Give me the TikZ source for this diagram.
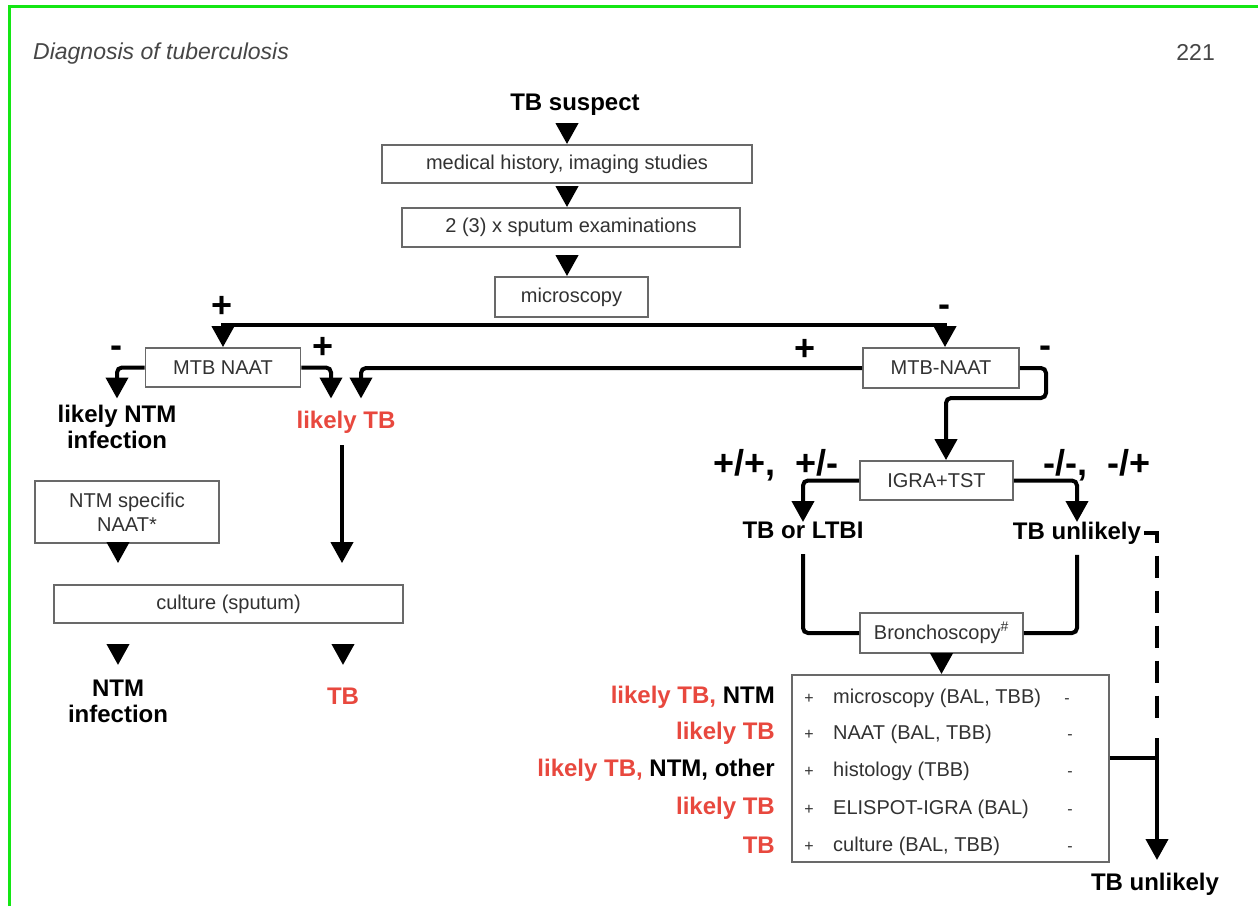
\documentclass[tikz,border=0pt]{standalone}
\usepackage{fontspec}
\setmainfont{Liberation Sans}
\usetikzlibrary{arrows.meta,calc}
\definecolor{tbred}{RGB}{232,72,62}
\definecolor{boxgray}{RGB}{105,105,105}
\definecolor{txtgray}{RGB}{50,50,50}
\definecolor{hdrgray}{RGB}{70,70,70}
\definecolor{framegreen}{RGB}{20,230,20}
\begin{document}
\begin{tikzpicture}[x=1pt,y=-1pt,
  box/.style={draw=boxgray, line width=1.8pt, fill=white, inner sep=0pt,
    font=\fontsize{20}{24}\selectfont, text=txtgray, align=center},
  lbl/.style={font=\bfseries\fontsize{24}{26}\selectfont, inner sep=0pt, align=center, text=black},
  redlbl/.style={lbl, text=tbred},
  pm/.style={font=\bfseries\fontsize{36}{36}\selectfont, inner sep=0pt, text=black},
  ln/.style={line width=4pt, rounded corners=5pt},
  arr/.style={-{Triangle[width=22pt,length=21pt]}},
  row/.style={font=\fontsize{20}{22}\selectfont, text=txtgray, inner sep=0pt, anchor=base west},
  sgn/.style={font=\fontsize{16}{18}\selectfont, text=txtgray, inner sep=0pt, anchor=base},
  rowlbl/.style={font=\bfseries\fontsize{24}{26}\selectfont, inner sep=0pt, anchor=base east},
]
\useasboundingbox (0,0) rectangle (1258,906);
\fill[white] (0,0) rectangle (1258,906);
\draw[framegreen, line width=3pt] (9.5,906) -- (9.5,6.5) -- (1258,6.5);

% header
\node[font=\itshape\fontsize{23}{26}\selectfont, text=hdrgray, inner sep=0pt, anchor=base west] (hdr) at (33,59) {Diagnosis of tuberculosis};
\node[font=\fontsize{23}{26}\selectfont, text=hdrgray, inner sep=0pt, anchor=base east] (pg) at (1215,60) {221};

% top column
\node[lbl] (ts) at (575,105) {TB suspect};
\node[box, minimum width=370pt, minimum height=38pt] (b1) at (567,164) {medical history, imaging studies};
\node[box, minimum width=338pt, minimum height=39pt] (b2) at (571,227.5) {2 (3) x sputum examinations};
\node[box, minimum width=153pt, minimum height=40pt] (b3) at (571.5,297) {microscopy};

\draw[ln, arr, shorten <=9pt] (ts.south -| b1.north) -- (b1.north);
\draw[ln, arr, shorten <=3pt] (b1.south) -- (b1.south |- b2.north);
\draw[ln, arr, shorten <=9pt] (b1.south |- b2.south) -- (b1.south |- b3.north);

% split after microscopy
\node[box, minimum width=155pt, minimum height=39pt] (nl) at (223,367.5) {MTB NAAT};
\node[box, minimum width=156pt, minimum height=40pt] (nr) at (941,368) {MTB-NAAT};
\coordinate (bar) at (571,325);
\draw[line width=4pt, {Triangle[width=22pt,length=21pt]}-{Triangle[width=22pt,length=21pt]}]
  (nl.north) |- (bar) -| ([xshift=4pt]nr.north);
\node[pm] (pmA) at (222,307) {+};
\node[pm] (pmB) at (944,311) {-};

% left branch
\node[lbl, anchor=north] (lntm) at (117,404.5) {likely NTM\\infection};
\node[redlbl, anchor=north] (ltb) at (346,410.5) {likely TB};
\draw[ln, arr, shorten >=6pt] (nl.west) -| (lntm.north);
\draw[ln, arr, shorten >=12pt] (nl.east) -| ([xshift=-15pt]ltb.north);
\draw[ln, arr, shorten >=12pt] (nr.west) -| ([xshift=15pt]ltb.north);
\node[pm] (pmC) at (116,352) {-};
\node[pm] (pmD) at (323,348) {+};
\node[pm] (pmE) at (805,350) {+};

\node[box, minimum width=184pt, minimum height=62pt] (ntmn) at (127,512) {NTM specific\\NAAT*};
\node[box, minimum width=349pt, minimum height=38pt] (cult) at (228.5,604) {culture (sputum)};
\node[lbl, anchor=north] (ntminf) at (118,680) {NTM\\infection};
\node[redlbl, anchor=north] (tb1) at (343,688) {TB};

\draw[ln, arr, shorten <=12pt, shorten >=21pt] ([xshift=-4pt]ltb.south) -- ([xshift=-4pt]ltb.south |- cult.north);
\draw[ln, arr, shorten >=21pt] (ntminf.north |- ntmn.south) -- (ntminf.north |- cult.north);
\draw[ln, arr, shorten <=22pt, shorten >=15pt] (ntminf.north |- cult.south) -- (ntminf.north);
\draw[ln, arr, shorten <=22pt, shorten >=23pt] (tb1.north |- cult.south) -- (tb1.north);

% right branch
\node[box, minimum width=153pt, minimum height=39pt] (igra) at (936.5,480.5) {IGRA+TST};
\coordinate (k1) at (1046,398);
\coordinate (k2) at (946,398);
\draw[ln, arr] (nr.east) -| (k1) -- (k2) -- (k2 |- igra.north);
\node[pm] (pmF) at (1045,352) {-};

\node[lbl, anchor=north] (tbl) at (803,522) {TB or LTBI};
\node[lbl, anchor=north] (tbu) at (1077,522) {TB unlikely};
\draw[ln, arr] (igra.west) -| (tbl.north);
\draw[ln, arr] (igra.east) -| (tbu.north);
\node[pm] (pmG) at (776,465) {+/+,\ \ +/-};
\node[pm] (pmH) at (1097,465) {-/-,\ \ -/+};

\node[box, minimum width=163pt, minimum height=40pt] (bron) at (941.5,633) {Bronchoscopy\textsuperscript{\#}};
\draw[ln, shorten <=15pt] (tbl.south) |- (bron.west);
\draw[ln, shorten <=10pt] (tbu.south) |- (bron.east);

\node[box, minimum width=317pt, minimum height=187pt] (res) at (950.5,768.5) {};
\draw[ln, arr] (bron.south) -- (bron.south |- res.north);

% result rows
\node[row] (r1) at (833,703) {microscopy (BAL, TBB)};
\node[row] (r2) at (833,739) {NAAT (BAL, TBB)};
\node[row] (r3) at (833,776) {histology (TBB)};
\node[row] (r4) at (833,814) {ELISPOT-IGRA (BAL)};
\node[row] (r5) at (833,851) {culture (BAL, TBB)};
\foreach \r/\m in {r1/1067,r2/1070,r3/1070,r4/1070,r5/1070}{
  \node[sgn] at (809,0 |- \r.base) {+};
  \node[sgn] at (\m,0 |- \r.base) {-};
}
\node[rowlbl] (l1) at (775,703) {\textcolor{tbred}{likely TB,} NTM};
\node[rowlbl] (l2) at (775,739) {\textcolor{tbred}{likely TB}};
\node[rowlbl] (l3) at (775,776) {\textcolor{tbred}{likely TB,} NTM, other};
\node[rowlbl] (l4) at (775,814) {\textcolor{tbred}{likely TB}};
\node[rowlbl] (l5) at (775,853) {\textcolor{tbred}{TB}};

% TB unlikely outcome
\node[lbl, anchor=north] (tbu2) at (1155,873) {TB unlikely};
\coordinate (dj) at (1157,758);
\draw[line width=4pt, dash pattern=on 22pt off 13pt, shorten <=3pt] (tbu.east) -| ([yshift=33pt]dj);
\draw[line width=4pt] (res.east |- dj) -- (dj);
\draw[line width=4pt, arr, shorten >=13pt] ([yshift=20pt]dj) -- (dj |- tbu2.north);
\end{tikzpicture}
\end{document}
